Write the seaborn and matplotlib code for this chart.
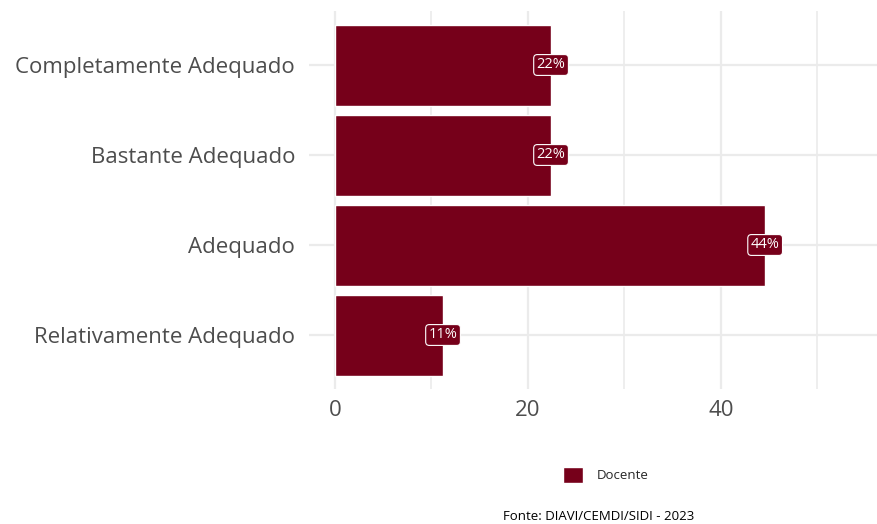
import numpy as np
import pandas as pd
import matplotlib
matplotlib.use('Agg')
import matplotlib.pyplot as plt
import seaborn as sb

# data
categorias = ['Completamente Adequado', 'Bastante Adequado', 'Adequado', 'Relativamente Adequado']
percentuais = [22.4, 22.4, 44.6, 11.2]
rotulos = ['22%', '22%', '44%', '11%']
grupo = ['Docente', 'Docente', 'Docente', 'Docente']
x_ticks = [0, 20, 40]
fonte = 'Fonte: DIAVI/CEMDI/SIDI - 2023'

cor_barra = '#76001A'

df = pd.DataFrame({'categoria': categorias, 'pct': percentuais, 'grupo': grupo})

sb.set_style('white')
plt.rcParams['font.family'] = ['Open Sans', 'DejaVu Sans']

fig = plt.figure(figsize=(8.77, 5.24), dpi=100)
ax = fig.add_axes([309 / 877, 1 - 389 / 524, 1 - 309 / 877, 378 / 524])

sb.barplot(data=df, x='pct', y='categoria', hue='grupo', orient='h',
           palette=[cor_barra], width=0.9, ax=ax, zorder=2, saturation=1)

# grid like ggplot theme_minimal
ax.set_xlim(-2.7, 56.2)
ax.set_ylim(3.6, -0.6)
ax.set_xticks(x_ticks)
ax.set_xticks([10, 30, 50], minor=True)
ax.grid(True, which='major', axis='both', color='#EBEBEB', linewidth=1.6, zorder=0)
ax.grid(True, which='minor', axis='x', color='#EBEBEB', linewidth=1.2, zorder=0)
ax.set_axisbelow(True)
for s in ax.spines.values():
    s.set_visible(False)
ax.tick_params(axis='both', which='both', length=0)
ax.tick_params(axis='y', pad=10, labelsize=16, labelcolor='#4D4D4D')
ax.tick_params(axis='x', pad=8, labelsize=16, labelcolor='#4D4D4D')
ax.set_xlabel('')
ax.set_ylabel('')

# percent labels at bar ends
for i, (v, r) in enumerate(zip(percentuais, rotulos)):
    ax.text(v, i, r, ha='center', va='center', color='white', fontsize=10.5,
            zorder=5,
            bbox=dict(boxstyle='round,pad=0.2,rounding_size=0.25', fc=cor_barra, ec='white', lw=0.8))

sb.move_legend(ax, loc='center', bbox_to_anchor=(606 / 877, 1 - 475 / 524),
               bbox_transform=fig.transFigure, title=None, frameon=False, fontsize=9.5,
               handlelength=1.5, handleheight=1.5, handletextpad=1.1)

fig.text(599 / 877, 1 / 524, fonte, ha='center', va='bottom', fontsize=9.5, color='black')

fig.savefig('out.png', dpi=100)
